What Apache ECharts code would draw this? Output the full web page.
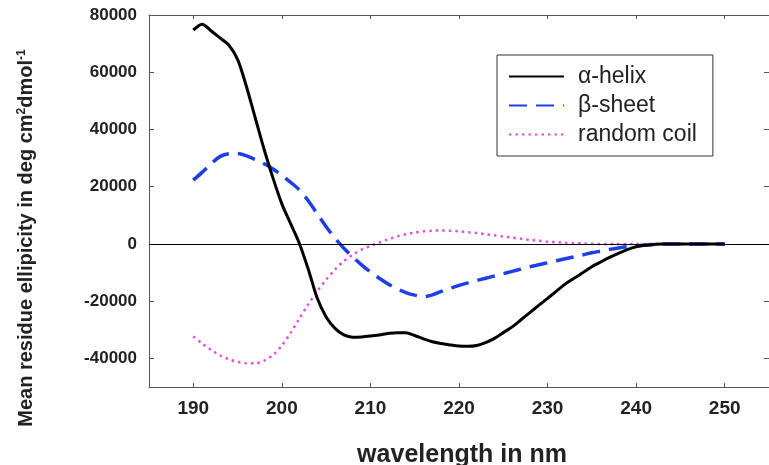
<!DOCTYPE html>
<html>
<head>
<meta charset="utf-8">
<script src="https://cdn.jsdelivr.net/npm/echarts@6/dist/echarts.min.js"></script>
<style>html,body{margin:0;padding:0;background:#fff;}#c{width:769px;height:465px;}</style>
</head>
<body>
<div id="c"></div>
<script>
const wavelength = [190,191,192,193,194,195,196,197,198,199,200,201,202,203,204,205,206,207,208,209,210,211,212,213,214,215,216,217,218,219,220,221,222,223,224,225,226,227,228,229,230,231,232,233,234,235,236,237,238,239,240,241,242,243,244,245,246,247,248,249,250];
const alphaHelix = [74700,76800,74500,72000,69500,64500,55000,44000,33000,23000,14000,7000,0,-9000,-19000,-25500,-29500,-31800,-32600,-32500,-32200,-31800,-31300,-31000,-31000,-32000,-33200,-34200,-34800,-35300,-35700,-35800,-35500,-34500,-33000,-31000,-29000,-26500,-24000,-21500,-19000,-16500,-14000,-12000,-10000,-8000,-6300,-4700,-3300,-2000,-1000,-500,-200,0,0,0,0,0,0,0,0];
const betaSheet = [22300,25000,28000,30500,31500,31600,30800,29500,28000,26200,24000,21500,18800,15000,10500,6000,2000,-1500,-4500,-7300,-9800,-12000,-14000,-15700,-17000,-17900,-18400,-17800,-16600,-15500,-14500,-13600,-12800,-12000,-11200,-10400,-9600,-8800,-8000,-7300,-6600,-5900,-5200,-4500,-3800,-3100,-2500,-1900,-1400,-1000,-700,-400,-200,0,0,0,0,0,0,0,0];
const randomCoil = [-32300,-34800,-37000,-38900,-40300,-41200,-41700,-41700,-40800,-38800,-35500,-31000,-26000,-21000,-16500,-12500,-9000,-6000,-3800,-2000,-700,500,1600,2600,3400,4000,4400,4600,4700,4600,4400,4100,3800,3400,3000,2600,2200,1800,1400,1100,800,600,400,250,150,50,0,0,0,0,0,0,0,0,0,0,0,0,0,0,0];
const seriesNames = ['\u03b1-helix', '\u03b2-sheet', 'random coil'];
const xTicks = [190,200,210,220,230,240,250];
const yTicks = [-40000,-20000,0,20000,40000,60000,80000];

const FONT = "'Liberation Sans', Arial, Helvetica, sans-serif";
const pairs = arr => wavelength.map((w, i) => [w, arr[i]]);
const chart = echarts.init(document.getElementById('c'));
const axisLineStyle = {color: '#555', width: 1};

chart.setOption({
  animation: false,
  backgroundColor: '#fff',
  grid: {left: 149, top: 15, width: 624, height: 372, containLabel: false},
  xAxis: [{
    type: 'value', min: 185, max: 255, interval: 5, position: 'bottom',
    axisLine: {show: true, onZero: false, lineStyle: axisLineStyle},
    axisTick: {show: true, inside: true, length: 4, lineStyle: axisLineStyle, customValues: xTicks},
    axisLabel: {fontFamily: FONT, fontWeight: 'bold', fontSize: 19, color: '#222', margin: 12, customValues: xTicks,
      formatter: v => String(v)},
    splitLine: {show: false}
  }, {
    type: 'value', min: 185, max: 255, interval: 5, position: 'top',
    axisLine: {show: true, onZero: false, lineStyle: axisLineStyle},
    axisTick: {show: true, inside: true, length: 4, lineStyle: axisLineStyle, customValues: xTicks},
    axisLabel: {show: false},
    splitLine: {show: false}
  }],
  yAxis: [{
    type: 'value', min: -50000, max: 80000, interval: 10000, position: 'left',
    axisLine: {show: true, onZero: false, lineStyle: axisLineStyle},
    axisTick: {show: true, inside: true, length: 5, lineStyle: axisLineStyle, customValues: yTicks},
    axisLabel: {fontFamily: FONT, fontWeight: 'bold', fontSize: 17, color: '#222', margin: 12, customValues: yTicks,
      formatter: v => String(v)},
    splitLine: {show: false}
  }, {
    type: 'value', min: -50000, max: 80000, interval: 10000, position: 'right',
    axisLine: {show: true, onZero: false, lineStyle: axisLineStyle},
    axisTick: {show: true, inside: true, length: 5, lineStyle: axisLineStyle, customValues: yTicks},
    axisLabel: {show: false},
    splitLine: {show: false}
  }],
  legend: {
    orient: 'vertical', left: 497, top: 55,
    backgroundColor: '#fff',
    borderColor: '#333', borderWidth: 1, borderRadius: 0,
    padding: [10, 16, 10, 11],
    itemWidth: 55, itemHeight: 22, itemGap: 6,
    itemStyle: {opacity: 0},
    textStyle: {fontFamily: FONT, fontSize: 23, color: '#222', padding: [0, 0, 0, 9]},
    data: seriesNames.map(n => ({name: n}))
  },
  graphic: [{
    type: 'text', x: 462, y: 455,
    style: {text: 'wavelength in nm', fontFamily: FONT, fontWeight: 'bold', fontSize: 25, fill: '#222', align: 'center', verticalAlign: 'middle'}
  }, {
    type: 'text', x: 26, y: 238, rotation: Math.PI / 2,
    style: {
      text: 'Mean residue ellipicity in deg cm{sup|2}dmol{sup|-1}',
      fontFamily: FONT, fontWeight: 'bold', fontSize: 20, fill: '#222', align: 'center', verticalAlign: 'middle',
      rich: {sup: {fontFamily: FONT, fontWeight: 'bold', fontSize: 12, fill: '#222', verticalAlign: 'top'}}
    }
  }],
  series: [{
    name: seriesNames[0], type: 'line', data: pairs(alphaHelix), showSymbol: false, symbol: 'none', smooth: 0.3,
    lineStyle: {color: '#000', width: 3, type: 'solid'}, itemStyle: {color: '#000'}, z: 4,
    markLine: {silent: true, symbol: 'none', label: {show: false}, lineStyle: {color: '#000', width: 1.2, type: 'solid'}, data: [{yAxis: 0}]}
  }, {
    name: seriesNames[1], type: 'line', data: pairs(betaSheet), showSymbol: false, symbol: 'none', smooth: 0.3,
    lineStyle: {color: '#1f3fe6', width: 3.5, type: [18, 9]}, itemStyle: {color: '#1f3fe6'}, z: 3
  }, {
    name: seriesNames[2], type: 'line', data: pairs(randomCoil), showSymbol: false, symbol: 'none', smooth: 0.3,
    lineStyle: {color: '#e050e0', width: 2.5, type: [2.5, 4]}, itemStyle: {color: '#e050e0'}, z: 2
  }]
});
</script>
</body>
</html>
